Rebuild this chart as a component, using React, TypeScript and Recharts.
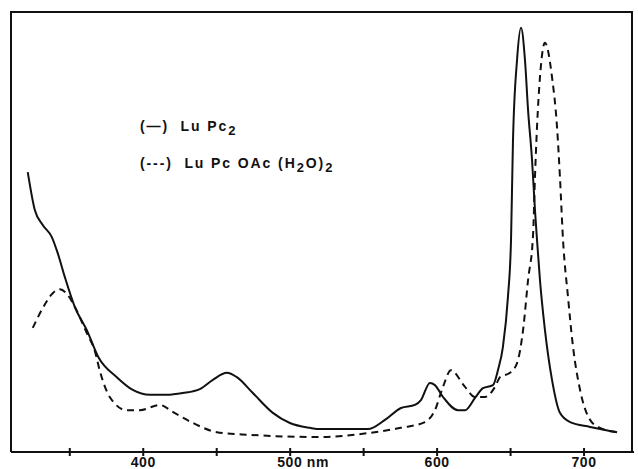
import { LineChart, Line, XAxis, YAxis } from "recharts";

// wavelength (nm) / relative absorbance
const pc2Nm = [321.4, 326.2, 331.6, 337.7, 341.8, 346.6, 353.4, 361.6, 369.4, 382.0, 392.9, 404.5, 416.0, 426.9, 438.5, 447.4, 456.9, 463.7, 474.6, 488.2, 499.8, 513.4, 520.2, 552.9, 564.5, 575.4, 584.9, 589.0, 595.1, 598.5, 604.0, 614.2, 619.0, 625.8, 631.2, 638.0, 641.4, 644.8, 648.2, 650.3, 651.6, 654.4, 657.1, 659.8, 661.9, 664.6, 666.6, 668.0, 670.0, 673.4, 678.2, 683.6, 690.5, 704.1, 722.5];
const pc2Abs = [63.6, 55.0, 51.6, 48.9, 45.2, 39.8, 33.0, 27.7, 21.6, 17.0, 14.1, 13.0, 13.0, 13.4, 14.3, 16.4, 18.0, 17.0, 13.4, 8.9, 6.6, 5.5, 5.2, 5.2, 7.3, 10.0, 10.7, 11.8, 15.7, 15.2, 12.5, 9.5, 9.5, 12.3, 14.5, 15.2, 18.6, 23.9, 35.2, 48.2, 70.2, 89.1, 96.4, 89.1, 77.7, 66.4, 55.0, 48.2, 39.1, 27.7, 16.4, 8.9, 6.8, 5.7, 4.5];

const oacNm = [324.8, 331.6, 338.4, 343.2, 348.6, 353.4, 361.6, 367.0, 370.4, 377.2, 388.8, 397.7, 411.3, 420.1, 433.8, 450.1, 472.6, 520.2, 552.9, 575.4, 591.7, 598.5, 604.0, 609.4, 619.0, 625.8, 632.6, 639.4, 642.8, 649.6, 654.4, 658.5, 661.9, 665.3, 666.6, 668.0, 670.0, 673.4, 678.2, 681.6, 683.6, 685.7, 689.1, 692.5, 697.3, 704.1, 710.9, 722.5];
const oacAbs = [28.2, 32.7, 36.1, 37.0, 35.7, 33.0, 27.0, 23.0, 18.5, 12.5, 9.5, 9.5, 10.7, 9.1, 6.6, 4.5, 3.9, 3.4, 4.3, 5.5, 6.8, 9.5, 14.8, 18.6, 14.8, 12.5, 12.5, 14.8, 17.0, 18.0, 20.2, 27.7, 39.1, 49.3, 62.5, 73.9, 85.2, 93.0, 85.2, 73.9, 62.5, 48.2, 35.2, 23.9, 14.1, 7.3, 5.5, 4.5];

const ticks = [350, 400, 450, 500, 550, 600, 650, 700];
const tickLabels: Record<number, string> = { 400: "400", 500: "500 nm", 600: "600", 700: "700" };

const pc2 = pc2Nm.map((x, i) => ({ x, y: pc2Abs[i] }));
const oac = oacNm.map((x, i) => ({ x, y: oacAbs[i] }));

const font = "'Liberation Sans', Arial, sans-serif";

const WaveTick = (props: any) => {
  const { x, payload } = props;
  const label = tickLabels[payload.value];
  const isNm = payload.value === 500;
  return (
    <g>
      <line x1={x} x2={x} y1={448} y2={456} stroke="#111" strokeWidth={2} />
      {label && (
        <text
          x={isNm ? x - 13 : x}
          y={467}
          textAnchor={isNm ? "start" : "middle"}
          fontFamily={font}
          fontWeight="bold"
          fontSize={14}
          letterSpacing={0.6}
          fill="#111"
        >
          {label}
        </text>
      )}
    </g>
  );
};

const legendStyle: React.CSSProperties = {
  position: "absolute",
  left: 140,
  fontFamily: font,
  fontWeight: "bold",
  fontSize: 14,
  color: "#111",
  whiteSpace: "pre",
  letterSpacing: 1.9,
};

const subStyle: React.CSSProperties = { fontSize: 13 };

export default function App() {
  return (
    <div style={{ position: "absolute", left: 0, top: 0, width: 638, height: 469, background: "#fff", overflow: "hidden" }}>
      <LineChart width={638} height={469} margin={{ top: 12, right: 4, left: 11, bottom: 0 }}>
        <XAxis
          type="number"
          dataKey="x"
          domain={[310, 734]}
          ticks={ticks}
          allowDataOverflow
          height={17}
          stroke="#111"
          strokeWidth={2}
          tickLine={false}
          tick={<WaveTick />}
        />
        <YAxis domain={[0, 100]} hide />
        <Line
          data={pc2}
          dataKey="y"
          type="monotone"
          stroke="#111"
          strokeWidth={2}
          dot={false}
          isAnimationActive={false}
        />
        <Line
          data={oac}
          dataKey="y"
          type="monotone"
          stroke="#111"
          strokeWidth={2}
          strokeDasharray="7 5"
          dot={false}
          isAnimationActive={false}
        />
      </LineChart>
      {/* frame around the plot */}
      <div
        style={{
          position: "absolute",
          left: 10,
          top: 11,
          width: 623,
          height: 441,
          borderTop: "2px solid #111",
          borderLeft: "2px solid #111",
          borderRight: "2px solid #111",
          boxSizing: "border-box",
          pointerEvents: "none",
        }}
      />
      <div style={{ ...legendStyle, top: 118 }}>
        (—)  Lu Pc<sub style={subStyle}>2</sub>
      </div>
      <div style={{ ...legendStyle, top: 155 }}>
        (---)  Lu Pc OAc (H<sub style={subStyle}>2</sub>O)<sub style={subStyle}>2</sub>
      </div>
    </div>
  );
}
